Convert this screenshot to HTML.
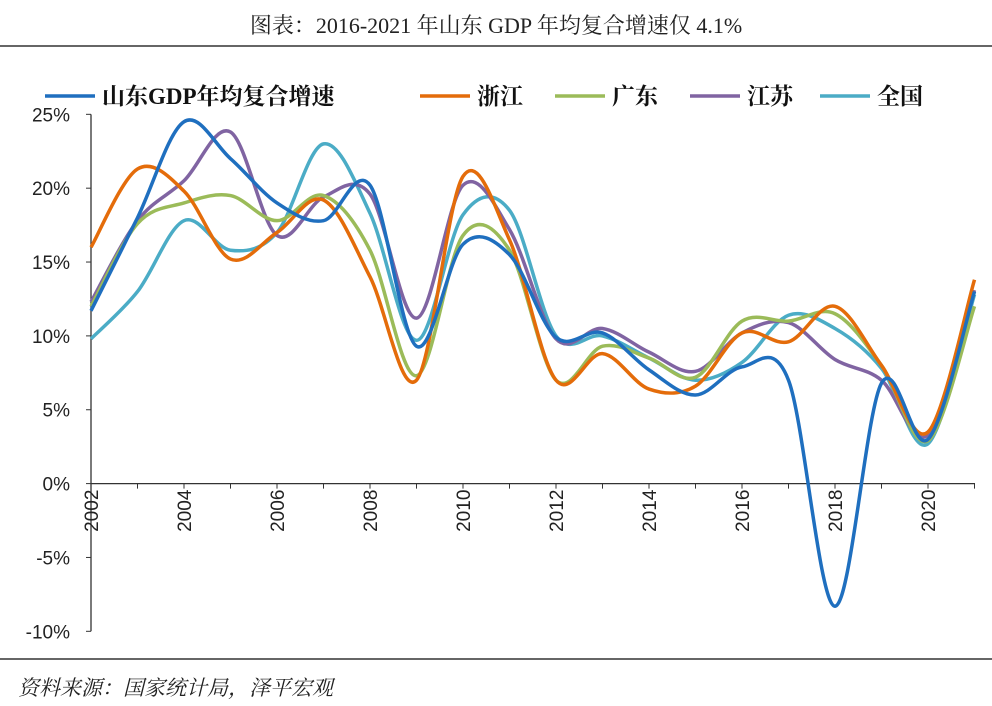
<!DOCTYPE html>
<html><head><meta charset="utf-8">
<style>
body{margin:0;background:#fff;width:992px;height:701px;overflow:hidden;font-family:"Liberation Serif","Noto Serif CJK SC",serif;}
</style></head>
<body>
<svg id="chart" width="992" height="701" xmlns="http://www.w3.org/2000/svg">
<text x="496" y="33" text-anchor="middle" font-size="22" font-family="Liberation Serif, Noto Serif CJK SC, serif" fill="#222">图表：2016-2021 年山东 GDP 年均复合增速仅 4.1%</text>
<line x1="0" y1="46" x2="992" y2="46" stroke="#333" stroke-width="1.5"/>
<line x1="0" y1="659" x2="992" y2="659" stroke="#333" stroke-width="1.5"/>
<text x="18" y="695" font-size="21" font-style="italic" font-family="Liberation Serif, Noto Serif CJK SC, serif" fill="#222">资料来源：国家统计局，泽平宏观</text>
<g id="axes"></g>
<g id="series"></g>
<g id="legend"></g>
</svg>
<script>
const years=[2002,2003,2004,2005,2006,2007,2008,2009,2010,2011,2012,2013,2014,2015,2016,2017,2018,2019,2020,2021];
const shandong=[11.7,18,24.5,22,19,17.8,20.2,9.3,16.2,15.5,9.9,10.2,7.7,6.0,7.9,7.0,-8.3,6.8,3.0,13.0];
const zhejiang=[16,21.3,19.8,15.2,17,19.2,14,7,20.8,16.5,7,8.8,6.4,6.6,10.2,9.6,12,8,3.5,13.8];
const guangdong=[12,17.6,19,19.5,17.8,19.5,15.8,7.3,16.8,15.8,7,9.3,8.5,7.2,11,11,11.5,8,2.9,12];
const jiangsu=[12.3,17.8,20.5,23.8,16.8,19.4,19.6,11.2,20.2,17.2,9.8,10.5,8.9,7.6,10.2,10.9,8.4,7,3.3,13.1];
const national=[9.8,13,17.8,15.8,17,23,18.3,9.7,18.2,18.5,10,10,8.5,7,8.2,11.4,10.5,7.8,2.7,12.8];
const yTicks=[25,20,15,10,5,0,-5,-10];
const xTickYears=[2002,2004,2006,2008,2010,2012,2014,2016,2018,2020];
const seriesNames=["山东GDP年均复合增速","浙江","广东","江苏","全国"];
const seriesColors=["#1f6fbf","#e46c0a","#9bbb59","#8064a2","#4bacc6"];

const NS="http://www.w3.org/2000/svg";
const x=v=>91+(v-2002)*46.5;
const y=v=>483.6-v*14.771;
function mk(tag,attrs,parent){const e=document.createElementNS(NS,tag);for(const k in attrs)e.setAttribute(k,attrs[k]);parent.appendChild(e);return e;}
const axes=document.getElementById('axes');
let a=mk('line',{x1:91,y1:y(25),x2:91,y2:y(-10),stroke:'#333','stroke-width':1.3},axes);


a=mk('line',{x1:91,y1:y(0),x2:975,y2:y(0),stroke:'#333','stroke-width':1.3},axes);


yTicks.forEach(t=>{
 const l=mk('line',{x1:86,y1:y(t),x2:91,y2:y(t),stroke:'#333'},axes);
 
 
 const tx=mk('text',{x:70,y:y(t)+7,'text-anchor':'end','font-size':19,fill:'#222','font-family':'Liberation Sans, sans-serif'},axes);
 tx.textContent=t+'%';
 
 
});
years.forEach(yr=>{
 const l=mk('line',{x1:x(yr),y1:y(0),x2:x(yr),y2:y(0)+5,stroke:'#333'},axes);
 
 
});
xTickYears.forEach(yr=>{
 const tx=mk('text',{x:0,y:0,'text-anchor':'end','font-size':19,fill:'#222','font-family':'Liberation Sans, sans-serif',transform:`translate(${x(yr)+7},${y(0)+6}) rotate(-90)`},axes);
 tx.textContent=yr;
 
 
});
function smooth(pts){
 let d=`M${pts[0][0]},${pts[0][1]}`;
 for(let i=0;i<pts.length-1;i++){
  const p0=pts[i-1]||pts[i],p1=pts[i],p2=pts[i+1],p3=pts[i+2]||p2;
  const c1=[p1[0]+(p2[0]-p0[0])/6,p1[1]+(p2[1]-p0[1])/6];
  const c2=[p2[0]-(p3[0]-p1[0])/6,p2[1]-(p3[1]-p1[1])/6];
  d+=` C${c1[0]},${c1[1]} ${c2[0]},${c2[1]} ${p2[0]},${p2[1]}`;
 }
 return d;
}
const all=[shandong,zhejiang,guangdong,jiangsu,national];
const keys=['shandong','zhejiang','guangdong','jiangsu','national'];
const sg=document.getElementById('series');
[4,3,2,1,0].forEach(i=>{
 const pts=all[i].map((v,j)=>[x(years[j]),y(v)]);
 const p=mk('path',{d:smooth(pts),fill:'none',stroke:seriesColors[i],'stroke-width':3.5,'stroke-linejoin':'round'},sg);
 
 
});
const lg=document.getElementById('legend');
const lx=[45,420,555,690,820];
seriesNames.forEach((n,i)=>{
 const g=mk('g',{},lg);
 
 
 mk('line',{x1:lx[i],y1:96,x2:lx[i]+50,y2:96,stroke:seriesColors[i],'stroke-width':3.5},g);
 const t=mk('text',{x:lx[i]+57,y:104,'font-size':23,'font-weight':'bold',fill:'#111','font-family':'Liberation Serif, Noto Serif CJK SC, serif'},g);
 t.textContent=n;
});
</script>
</body></html>
